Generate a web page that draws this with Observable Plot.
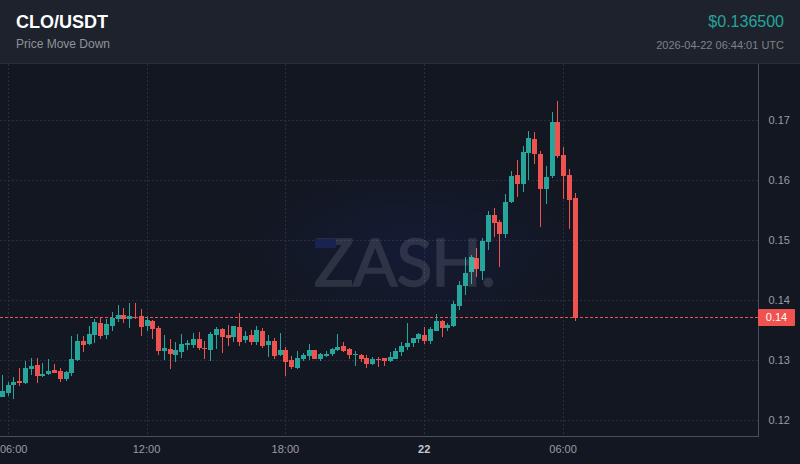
<!DOCTYPE html>
<html>
<head>
<meta charset="utf-8">
<script src="https://cdn.jsdelivr.net/npm/d3@7"></script>
<script src="https://cdn.jsdelivr.net/npm/@observablehq/plot@0.6"></script>
<style>
  html, body { margin: 0; padding: 0; background: #131722; width: 800px; height: 464px; overflow: hidden; font-family: "Liberation Sans", Arial, sans-serif; }
  #header { position: relative; height: 63px; background: #1e222d; border-bottom: 1px solid #2a2e39; }
  #title { position: absolute; left: 16px; top: 11px; font-size: 18px; font-weight: 700; color: #ffffff; line-height: 22px; }
  #subtitle { position: absolute; left: 16px; top: 36px; font-size: 12px; color: #8f929b; line-height: 16px; }
  #price { position: absolute; right: 16px; top: 12px; font-size: 16px; color: #26a69a; line-height: 20px; }
  #stamp { position: absolute; right: 16px; top: 38px; font-size: 11px; color: #7f828b; line-height: 14px; }
  #chart { position: relative; width: 800px; height: 400px; background: radial-gradient(ellipse 175px 85px at 415px 186px, rgba(24,34,92,0.32), rgba(24,34,92,0)); }
  #chart svg { display: block; }
  #mark { position: absolute; left: 300px; top: 176px; width: 200px; height: 60px; pointer-events: none; }
  #mark span { position: absolute; left: 14px; top: -12px; font-family: Lato, sans-serif; font-weight: 400; font-size: 66px; line-height: 66px; letter-spacing: -1px; color: #fff; -webkit-text-stroke: 1.5px #fff; opacity: 0.11; white-space: nowrap; }
  #mark i { position: absolute; left: 15px; top: -1px; width: 21px; height: 9px; background: #1a2250; }
  #tag { position: absolute; left: 758px; width: 37px; height: 17px; line-height: 17px; background: #ef5350; color: #fff; font-size: 11px; text-align: center; border-radius: 1px; }
</style>
</head>
<body>
<div id="header">
  <div id="title">CLO/USDT</div>
  <div id="subtitle">Price Move Down</div>
  <div id="price">$0.136500</div>
  <div id="stamp">2026-04-22 06:44:01 UTC</div>
</div>
<div id="chart"><div id="mark"><span>ZASH.</span><i></i></div></div>
<script>
const startTime = "2026-04-21T05:45:00Z";
const stepMinutes = 15;
const opens = [.12385,.12452,.12585,.12652,.12619,.12853,.12919,.12736,.12769,.12836,
  .12819,.12686,.12786,.13003,.13320,.13270,.13420,.13621,.13420,.13571,
  .13688,.13754,.13688,.13726,.13738,.13571,.13654,.13537,.13153,.13187,
  .13086,.13137,.13253,.13253,.13354,.13203,.13170,.13420,.13521,.13420,
  .13387,.13554,.13337,.13420,.13304,.13487,.13253,.13320,.13086,.13170,
  .13003,.12869,.13020,.13070,.13170,.13020,.13070,.13103,.13170,.13237,
  .13187,.13086,.13086,.13036,.12936,.13020,.13036,.12986,.13020,.13137,
  .13220,.13287,.13354,.13420,.13320,.13487,.13654,.13537,.13571,.13905,
  .14239,.14473,.14706,.14490,.14974,.15425,.15308,.15107,.15642,.16094,
  .15943,.16461,.16695,.16444,.15859,.16077,.16979,.16428,.16094,.15709];
const closes = [.12485,.12585,.12636,.12619,.12869,.12903,.12736,.12769,.12819,.12786,
  .12686,.12803,.13020,.13320,.13253,.13437,.13638,.13404,.13604,.13704,
  .13754,.13688,.13738,.13709,.13554,.13671,.13521,.13153,.13203,.13103,
  .13170,.13270,.13287,.13354,.13203,.13187,.13437,.13521,.13387,.13370,
  .13571,.13304,.13404,.13304,.13504,.13237,.13320,.13070,.13170,.12970,
  .12886,.13036,.13086,.13170,.13020,.13103,.13103,.13187,.13220,.13153,
  .13086,.13103,.13020,.12936,.13020,.13003,.12986,.13053,.13153,.13237,
  .13287,.13370,.13437,.13320,.13521,.13654,.13537,.13587,.13938,.14256,
  .14456,.14723,.14523,.14990,.15425,.15291,.15107,.15642,.16077,.15943,
  .16478,.16712,.16444,.15859,.16060,.16979,.16411,.16077,.15676,.13704];
const highs = [.12752,.12640,.12719,.12869,.12986,.13036,.13036,.12953,.13020,.12936,
  .12869,.12819,.13404,.13437,.13404,.13571,.13688,.13721,.13688,.13805,
  .13921,.13871,.13955,.13955,.13855,.13738,.13671,.13571,.13420,.13354,
  .13304,.13437,.13337,.13454,.13471,.13320,.13471,.13554,.13537,.13587,
  .13571,.13788,.13487,.13504,.13571,.13537,.13420,.13370,.13454,.13220,
  .13070,.13153,.13120,.13270,.13170,.13120,.13153,.13203,.13437,.13304,
  .13203,.13153,.13103,.13086,.13053,.13053,.13036,.13137,.13203,.13304,
  .13621,.13370,.13454,.13554,.13554,.13771,.13671,.13621,.13988,.14322,
  .14723,.14756,.14873,.15041,.15492,.15542,.15341,.15776,.16160,.16344,
  .16578,.16829,.16812,.16494,.16244,.17146,.17329,.16561,.16194,.15793];
const lows = [.12385,.12406,.12351,.12569,.12607,.12752,.12619,.12719,.12757,.12786,
  .12636,.12652,.12736,.12986,.13137,.13253,.13287,.13354,.13354,.13487,
  .13638,.13621,.13537,.13688,.13404,.13487,.13354,.13086,.13003,.12853,
  .12970,.13036,.13170,.13203,.13170,.13020,.12986,.13187,.13120,.13237,
  .13304,.13237,.13287,.13253,.13253,.13203,.13053,.13020,.13070,.12736,
  .12853,.12853,.12986,.13003,.13020,.12986,.13053,.13070,.13153,.13137,
  .13020,.12903,.12970,.12869,.12919,.12886,.12903,.12970,.13020,.13070,
  .13170,.13220,.13287,.13270,.13270,.13487,.13387,.13487,.13554,.13838,
  .14088,.14272,.14389,.14339,.14840,.15057,.14556,.15041,.15625,.15726,
  .15809,.16010,.16277,.15224,.15609,.16043,.16378,.15692,.15191,.13654];
const yTicks = [0.12, 0.13, 0.14, 0.15, 0.16, 0.17];
const firstTickTime = "2026-04-21T06:00:00Z";
const xTickTimes = ["2026-04-21T12:00:00Z", "2026-04-21T18:00:00Z", "2026-04-22T06:00:00Z"];
const dayTickTime = "2026-04-22T00:00:00Z";
const dayTickLabel = "22";
const lastPrice = 0.13712;
const lastPriceLabel = "0.14";
const xDomain = ["2026-04-21T05:38:52Z", "2026-04-22T14:24:00Z"];
const yDomain = [0.11716, 0.17948];
const axisFloor = 0.11724;

const UP = "#26a69a", DOWN = "#ef5350";
const t0 = new Date(startTime).getTime();
const candles = opens.map((o, i) => ({
  t: new Date(t0 + i * stepMinutes * 60000),
  open: o, close: closes[i], high: highs[i], low: lows[i]
}));
const hhmm = d3.utcFormat("%H:%M");
const xTicks = xTickTimes.map(s => new Date(s));
const firstTick = new Date(firstTickTime);
const dayTick = new Date(dayTickTime);
const GRID = "#2a2e40";
const AXIS_TEXT = "#9a9ca5";
const BORDER = "#4a4e5e";
const dir = d => d.close >= d.open ? UP : DOWN;

const plot = Plot.plot({
  width: 800, height: 400,
  marginLeft: 0, marginRight: 42, marginTop: 0, marginBottom: 27,
  style: { background: "transparent", fontFamily: '"Liberation Sans", Arial, sans-serif', fontSize: "11px", overflow: "visible" },
  x: { type: "utc", domain: xDomain.map(s => new Date(s)) },
  y: { domain: yDomain },
  marks: [
    Plot.ruleY(yTicks, { stroke: GRID, strokeDasharray: "2,2", className: "snap" }),
    Plot.ruleX([firstTick, ...xTicks, dayTick], { stroke: GRID, strokeDasharray: "2,2", className: "snap" }),
    Plot.ruleY([lastPrice], { stroke: DOWN, strokeDasharray: "3,2", className: "snap" }),
    Plot.ruleX(candles, { x: "t", y1: "low", y2: "high", stroke: dir, strokeWidth: 1, className: "snap" }),
    Plot.ruleX(candles, { x: "t", y1: "open", y2: "close", stroke: dir, strokeWidth: 5, className: "snap" }),
    Plot.ruleX([new Date(xDomain[1])], { stroke: BORDER, className: "snap" }),
    Plot.ruleY([axisFloor], { stroke: BORDER, className: "snap" }),
    Plot.axisY({ anchor: "right", ticks: yTicks, tickSize: 0, tickPadding: 10, dy: -0.3, tickFormat: d3.format(".2f"), label: null, fill: AXIS_TEXT, textAnchor: "start" }),
    Plot.axisX({ ticks: [firstTick], tickSize: 0, tickPadding: 8, dx: 5, tickFormat: hhmm, label: null, fill: AXIS_TEXT }),
    Plot.axisX({ ticks: xTicks, tickSize: 0, tickPadding: 8, dx: -1, tickFormat: hhmm, label: null, fill: AXIS_TEXT }),
    Plot.axisX({ ticks: [dayTick], tickSize: 0, tickPadding: 8, dx: -1, tickFormat: () => dayTickLabel, label: null, fill: "#c8cad0", fontWeight: "bold" })
  ]
});
const chart = document.getElementById("chart");
chart.insertBefore(plot, chart.firstChild);

// The reference draws on whole pixels: snap the rules the library placed,
// with their half-pixel centre set here whatever the device pixel ratio is.
d3.select(plot).selectAll(".snap line").each(function () {
  this.parentNode.removeAttribute("transform");
  this.removeAttribute("transform");
  const l = d3.select(this);
  const x1 = +l.attr("x1"), x2 = +l.attr("x2");
  const y1 = +l.attr("y1"), y2 = +l.attr("y2");
  if (x1 === x2) {
    const nx = Math.floor(x1) + 0.5;
    let a = Math.round(y1), b = Math.round(y2);
    if (a === b) b = a + 1;
    l.attr("x1", nx).attr("x2", nx).attr("y1", a).attr("y2", b);
  } else {
    const ny = Math.floor(y1) + 0.5;
    l.attr("y1", ny).attr("y2", ny);
  }
});

// Last-price tag on the axis, placed through the y scale.
const tag = document.createElement("div");
tag.id = "tag";
tag.textContent = lastPriceLabel;
tag.style.top = (Math.floor(plot.scale("y").apply(lastPrice)) - 8) + "px";
chart.appendChild(tag);
</script>
</body>
</html>
